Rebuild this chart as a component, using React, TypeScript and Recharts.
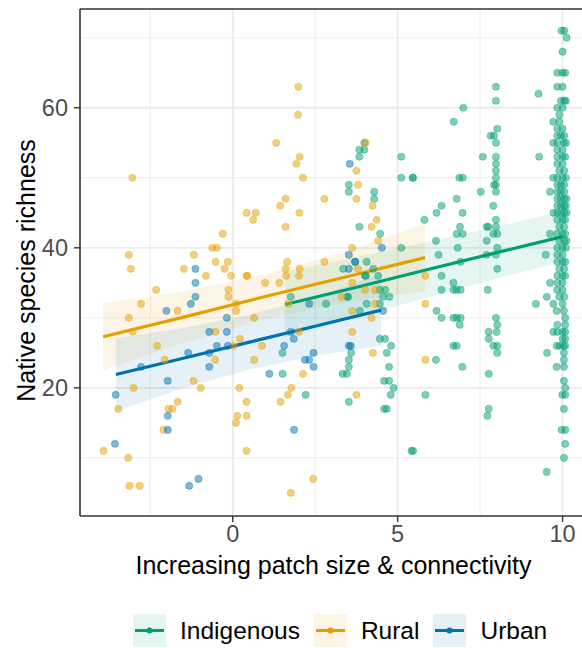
import React from "react"
import {
  ComposedChart,
  Scatter,
  Line,
  Area,
  XAxis,
  YAxis,
  CartesianGrid,
  ReferenceLine,
  Label,
} from "recharts"

type Pt = [number, number]

// site observations: [patch size & connectivity score, native species richness]
const indigenousPoints: Pt[] = [
  [1.51, 25], [1.51, 22], [1.76, 33], [2.21, 19], [2.83, 32], [3.47, 33], [3.5, 33],
  [3.35, 37], [3.71, 38], [4.06, 38], [4.26, 37], [4.04, 36],
  [3.99, 55], [3.84, 54], [3.99, 54], [3.84, 53], [3.52, 49], [3.52, 48], [4.29, 48], [4.29, 47],
  [3.84, 43], [4.47, 42], [5.11, 40], [5.11, 53], [5.11, 50], [5.45, 50],
  [4.01, 36], [4.41, 36], [4.46, 34], [4.62, 34], [4.56, 33], [4.75, 33], [4.06, 32], [4.46, 32],
  [3.85, 31], [3.59, 25], [3.52, 24], [3.52, 23], [3.33, 22], [3.46, 22],
  [4.46, 27], [4.62, 27], [4.8, 26], [4.67, 25], [4.74, 23], [4.59, 21], [4.74, 21],
  [4.88, 20], [4.79, 19], [4.59, 17], [4.67, 17], [3.52, 18], [5.42, 11], [5.84, 19],
  // middle of the gradient
  [5.47, 50], [6.99, 60], [6.7, 58], [7.98, 63], [7.98, 61], [8.02, 57], [7.82, 56], [7.92, 56],
  [7.98, 55], [7.58, 53], [7.98, 53], [7.98, 52], [7.98, 51], [7.98, 50], [7.92, 49], [7.98, 49],
  [7.98, 48], [6.87, 50], [6.97, 50], [7.52, 48], [6.79, 47], [6.33, 46], [6.18, 45], [6.97, 45],
  [7.9, 46], [7.98, 44], [7.98, 43], [5.81, 44], [6.89, 43], [6.79, 42], [6.97, 42], [7.7, 43],
  [7.7, 41], [6.16, 41], [6.82, 40], [6.24, 39], [6.91, 38], [8.02, 40], [7.98, 39], [7.7, 39],
  [8.02, 37], [7.9, 42], [8.02, 42], [7.75, 43],
  [6.33, 36], [6.33, 34], [6.69, 35], [6.69, 34], [6.79, 34], [6.91, 34], [6.18, 31], [6.33, 30],
  [6.69, 30], [6.79, 30], [6.91, 30], [6.88, 29], [6.69, 26], [6.79, 26], [6.16, 24], [6.96, 23],
  [5.47, 11], [7.73, 34], [7.98, 30], [8.02, 29], [7.76, 28], [8.0, 28], [7.76, 27], [7.9, 26],
  [8.02, 26], [8.02, 25], [7.76, 22], [7.76, 17], [7.72, 16],
  [9.29, 53], [9.27, 62], [9.49, 39], [9.62, 42], [9.62, 48], [9.72, 50], [9.72, 55], [9.72, 58],
  [9.19, 32], [9.52, 33], [9.62, 35], [9.53, 25], [9.52, 8],
  // largest, best-connected patches
  [9.97, 71], [10.05, 71], [10.12, 70], [10.0, 68], [9.84, 65], [10.0, 65], [10.08, 65],
  [9.84, 63], [10.0, 63], [9.95, 61], [10.05, 61], [10.1, 61], [9.84, 60], [10.0, 60],
  [9.9, 59], [9.9, 58], [9.84, 57], [10.0, 57], [9.84, 56], [9.95, 56], [10.05, 56],
  [9.84, 55], [10.03, 55], [10.1, 55], [9.84, 54], [10.0, 54], [9.84, 53], [10.0, 53], [10.08, 53],
  [9.84, 52], [10.0, 52], [9.9, 51], [10.05, 51], [9.84, 50], [10.0, 50], [10.1, 50],
  [9.84, 49], [9.95, 49], [10.05, 49], [9.84, 48], [9.95, 48], [10.05, 48],
  [9.84, 47], [9.95, 47], [10.05, 47], [10.12, 47], [9.84, 46], [9.95, 46], [10.05, 46], [10.1, 46],
  [9.72, 45], [9.84, 45], [9.95, 45], [10.05, 45], [10.12, 45], [9.84, 44], [10.0, 44], [10.08, 44],
  [9.9, 43], [10.05, 43], [9.84, 42], [10.0, 42], [10.08, 42], [9.9, 41], [10.05, 41], [10.12, 41],
  [9.84, 40], [10.0, 40], [10.1, 40], [9.84, 39], [10.0, 39], [9.84, 38], [10.0, 38], [10.08, 38],
  [9.9, 37], [10.05, 37], [9.84, 36], [10.0, 36], [10.08, 36], [9.84, 35], [10.0, 35],
  [9.84, 34], [10.0, 34], [9.9, 33], [10.05, 33], [9.72, 32], [10.0, 32], [9.82, 31], [10.04, 31],
  [10.08, 30], [9.84, 29], [10.08, 29], [9.72, 28], [9.84, 28], [10.0, 28], [10.08, 28],
  [10.0, 27], [10.08, 27], [9.82, 26], [9.91, 26], [10.03, 26], [10.08, 26], [10.04, 25],
  [10.04, 24], [9.82, 23], [10.04, 23], [10.04, 21], [10.08, 20], [9.99, 19], [10.08, 19],
  [10.04, 17], [9.97, 14], [10.08, 14], [10.08, 12], [10.04, 10],
]

const ruralPoints: Pt[] = [
  [-3.92, 11], [-3.17, 10], [-3.13, 6], [-2.82, 6], [-3.47, 17], [-3.01, 20], [-3.03, 28],
  [-3.15, 30], [-2.78, 32], [-2.32, 34], [-3.09, 37], [-3.15, 39], [-3.04, 50], [-2.29, 26],
  [-2.06, 24], [-1.67, 31], [-1.48, 37], [-1.18, 39], [-1.67, 18], [-1.95, 17], [-1.83, 17],
  [-2.1, 14], [-1.19, 21], [-0.97, 20], [-0.81, 36], [-0.62, 40], [-0.48, 40], [-0.3, 42],
  [-0.52, 38], [-0.15, 38], [-0.25, 37], [-0.05, 36], [-0.13, 34], [-0.13, 33], [0.1, 32],
  [0.1, 31], [0.42, 36], [0.44, 36], [0.42, 45], [0.7, 45], [0.62, 44], [-0.52, 28], [-0.53, 24],
  [0.22, 27], [0.02, 26], [0.65, 30], [0.65, 24], [0.89, 26], [0.98, 35], [1.41, 35],
  [1.6, 37], [1.65, 38], [2.03, 37], [1.62, 36], [2.01, 36], [1.69, 32], [2.01, 28], [2.13, 22],
  [1.78, 20], [1.67, 19], [1.45, 18], [0.2, 20], [0.42, 18], [0.14, 16], [0.42, 16], [0.1, 15],
  [0.42, 11], [2.44, 7], [1.76, 5],
  [1.99, 63], [1.98, 59], [1.32, 55], [2.03, 53], [1.93, 52], [2.13, 50], [1.6, 47], [1.44, 46],
  [2.02, 45], [1.6, 43], [2.78, 47], [4.03, 55], [3.75, 51], [3.8, 49], [3.75, 47], [4.24, 46],
  [4.21, 43], [4.36, 44], [4.41, 41], [3.62, 40], [2.78, 38], [3.8, 37], [3.3, 33], [3.62, 35],
  [4.01, 34], [4.32, 34], [4.32, 32], [3.62, 31], [4.21, 30], [3.62, 28], [4.25, 25], [3.75, 19],
  [5.84, 36], [5.84, 32], [5.84, 24],
]

const urbanPoints: Pt[] = [
  [-3.55, 19], [-3.57, 12], [-2.78, 23], [-2.01, 31], [-1.97, 21], [-1.97, 16], [-1.97, 14],
  [-1.35, 25], [-1.32, 6], [-1.04, 7], [-1.13, 37], [-1.13, 35], [-1.13, 33], [-1.27, 32],
  [-0.71, 28], [-0.71, 25], [-0.71, 23], [-0.48, 26], [-0.18, 28], [-0.18, 30], [-0.15, 26],
  [1.56, 26], [1.11, 22], [1.85, 27], [1.76, 28], [1.86, 14], [2.45, 25], [2.19, 24],
  [2.32, 24], [2.45, 23], [2.32, 32], [3.52, 26], [3.58, 26], [3.55, 52], [4.52, 40],
  [3.52, 39], [3.52, 37], [3.71, 38], [4.56, 31],
]

// linear fits with 95% bands: x, fitted richness, [lower, upper]
const indigenousFit = [
  { x: 1.58, fit: 31.9, band: [27.2, 36.6] },
  { x: 3.7, fit: 34.3, band: [30.0, 38.6] },
  { x: 5.79, fit: 36.75, band: [32.75, 40.75] },
  { x: 7.9, fit: 39.2, band: [35.5, 42.9] },
  { x: 10.0, fit: 41.6, band: [38.0, 45.2] },
]
const ruralFit = [
  { x: -3.93, fit: 27.3, band: [22.5, 32.1] },
  { x: -1.49, fit: 30.1, band: [26.4, 33.8] },
  { x: 0.95, fit: 33.0, band: [29.8, 36.2] },
  { x: 3.39, fit: 35.8, band: [32.2, 39.4] },
  { x: 5.83, fit: 38.6, band: [33.75, 43.45] },
]
const urbanFit = [
  { x: -3.54, fit: 21.9, band: [16.7, 27.1] },
  { x: -1.53, fit: 24.2, band: [19.9, 28.5] },
  { x: 0.48, fit: 26.5, band: [22.6, 30.4] },
  { x: 2.49, fit: 28.8, band: [24.6, 33.0] },
  { x: 4.5, fit: 31.1, band: [26.0, 36.2] },
]

const xTicks = [0, 5, 10]
const yTicks = [20, 40, 60]
const xMinor = [-2.5, 2.5, 7.5]
const yMinor = [10, 30, 50, 70]
const X_DOMAIN: [number, number] = [-4.63, 10.74]
const Y_DOMAIN: [number, number] = [1.7, 74.1]

const groups = [
  { name: "Indigenous", color: "#009E73", points: indigenousPoints, fit: indigenousFit },
  { name: "Rural", color: "#E69F00", points: ruralPoints, fit: ruralFit },
  { name: "Urban", color: "#0072B2", points: urbanPoints, fit: urbanFit },
]

const FONT = "'Liberation Sans', Arial, Helvetica, sans-serif"

const toXY = (pts: Pt[]) => pts.map(([x, y]) => ({ x, y }))

function Dot(color: string) {
  return (p: any) => (
    <circle
      cx={p.cx}
      cy={p.cy}
      r={3.6}
      fill={color}
      fillOpacity={0.5}
      stroke={color}
      strokeOpacity={0.45}
      strokeWidth={0.8}
    />
  )
}

function LegendKey({ color }: { color: string }) {
  return (
    <svg width={33} height={33}>
      <rect width={33} height={33} fill={color} fillOpacity={0.1} />
      <line x1={2} x2={31} y1={16.5} y2={16.5} stroke={color} strokeWidth={3} />
      <circle cx={16.5} cy={16.5} r={3} fill={color} />
    </svg>
  )
}

export default function App() {
  return (
    <div
      style={{
        position: "absolute",
        left: 0,
        top: 0,
        width: 582,
        height: 648,
        overflow: "hidden",
        background: "#fff",
        fontFamily: FONT,
      }}
    >
      <ComposedChart width={592} height={648} margin={{ top: 9, right: 5, bottom: 72, left: 0 }}>
        <CartesianGrid
          verticalValues={xMinor}
          horizontalValues={yMinor}
          stroke="#EBEBEB"
          strokeWidth={0.9}
        />
        <CartesianGrid
          verticalValues={xTicks}
          horizontalValues={yTicks}
          stroke="#EBEBEB"
          strokeWidth={1.8}
        />
        <XAxis
          type="number"
          dataKey="x"
          domain={X_DOMAIN}
          ticks={xTicks}
          allowDataOverflow
          height={60}
          tickSize={6}
          tickMargin={3}
          axisLine={{ stroke: "#333", strokeWidth: 1.6 }}
          tickLine={{ stroke: "#333", strokeWidth: 1.4 }}
          tick={{ fill: "#4D4D4D", fontSize: 23.5, fontFamily: FONT }}
        >
          <Label
            content={({ viewBox }: any) => (
              <text
                x={viewBox.x + viewBox.width / 2}
                y={viewBox.y + 58}
                textAnchor="middle"
                fontSize={25}
                fontFamily={FONT}
                fill="#000"
              >
                Increasing patch size &amp; connectivity
              </text>
            )}
          />
        </XAxis>
        <YAxis
          type="number"
          dataKey="y"
          domain={Y_DOMAIN}
          ticks={yTicks}
          allowDataOverflow
          width={80}
          tickSize={6}
          tickMargin={6}
          axisLine={{ stroke: "#333", strokeWidth: 1.6 }}
          tickLine={{ stroke: "#333", strokeWidth: 1.4 }}
          tick={{ fill: "#4D4D4D", fontSize: 23.5, fontFamily: FONT }}
        >
          <Label
            content={({ viewBox }: any) => {
              const cx = 26
              const cy = viewBox.y + viewBox.height / 2 + 8
              return (
                <text
                  x={cx}
                  y={cy}
                  transform={`rotate(-90 ${cx} ${cy})`}
                  textAnchor="middle"
                  dominantBaseline="central"
                  fontSize={25}
                  fontFamily={FONT}
                  fill="#000"
                >
                  Native species richness
                </text>
              )
            }}
          />
        </YAxis>
        <ReferenceLine y={Y_DOMAIN[1]} stroke="#333" strokeWidth={1.6} />

        {groups.map((g) => (
          <Scatter
            key={`pts-${g.name}`}
            name={g.name}
            data={toXY(g.points)}
            dataKey="y"
            shape={Dot(g.color)}
            isAnimationActive={false}
          />
        ))}
        {groups.map((g) => (
          <Area
            key={`band-${g.name}`}
            data={g.fit}
            dataKey="band"
            type="linear"
            stroke="none"
            fill={g.color}
            fillOpacity={0.1}
            isAnimationActive={false}
          />
        ))}
        {groups.map((g) => (
          <Line
            key={`fit-${g.name}`}
            data={g.fit}
            dataKey="fit"
            type="linear"
            stroke={g.color}
            strokeWidth={3.2}
            dot={false}
            isAnimationActive={false}
          />
        ))}
      </ComposedChart>

      <div
        style={{
          position: "absolute",
          left: 133,
          top: 614,
          display: "flex",
          alignItems: "center",
          fontSize: 24.5,
          color: "#000",
          lineHeight: "33px",
        }}
      >
        {groups.map((g) => (
          <div key={g.name} style={{ display: "flex", alignItems: "center", marginRight: 14 }}>
            <LegendKey color={g.color} />
            <span style={{ marginLeft: 14 }}>{g.name}</span>
          </div>
        ))}
      </div>
    </div>
  )
}
